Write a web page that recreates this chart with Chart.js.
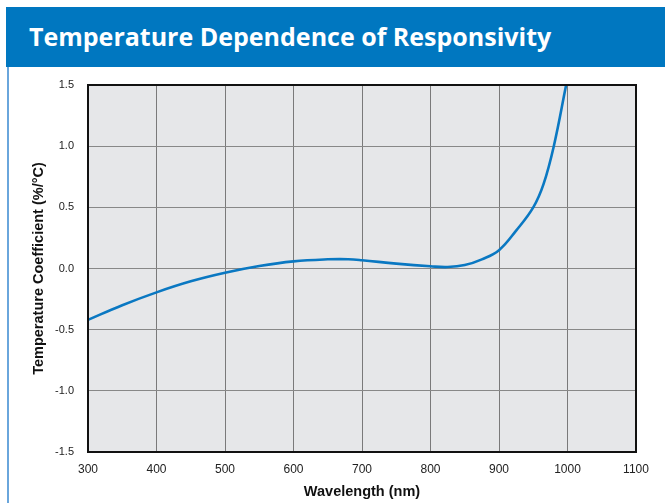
<!DOCTYPE html>
<html>
<head>
<meta charset="utf-8">
<script src="https://cdn.jsdelivr.net/npm/chart.js@4"></script>
<style>
  html,body{margin:0;padding:0;background:#fff;}
  #wrap{position:relative;width:665px;height:503px;overflow:hidden;}
  #hdr{position:absolute;left:6px;top:7px;width:659px;height:60px;background:#0077c0;}
  #ttl{position:absolute;left:29px;top:16px;color:#fff;font-family:"Open Sans",sans-serif;font-weight:700;font-size:25px;line-height:40px;white-space:nowrap;}
  #lline{position:absolute;left:7px;top:67px;width:2px;height:436px;background:#6aa6dc;}
  canvas{position:absolute;left:0;top:0;}
</style>
</head>
<body>
<div id="wrap">
  <div id="hdr"></div>
  <div id="ttl">Temperature Dependence of Responsivity</div>
  <div id="lline"></div>
  <canvas id="c" width="665" height="503"></canvas>
</div>
<script>
const title = "Temperature Dependence of Responsivity";
const xAxisTitle = "Wavelength (nm)";
const yAxisTitle = "Temperature Coefficient (%/°C)";
const wavelengths = [300, 350, 400, 450, 500, 550, 600, 650, 680, 700, 750, 800, 825, 850, 875, 900, 925, 950, 965, 980, 998];
const coefficients = [-0.42, -0.30, -0.195, -0.105, -0.035, 0.02, 0.058, 0.075, 0.076, 0.068, 0.04, 0.018, 0.012, 0.028, 0.075, 0.15, 0.31, 0.5, 0.69, 1.0, 1.5];
const xTicks = [300, 400, 500, 600, 700, 800, 900, 1000, 1100];
const yTicks = [-1.5, -1.0, -0.5, 0.0, 0.5, 1.0, 1.5];

const points = wavelengths.map((w, i) => ({x: w, y: coefficients[i]}));

const bgPlugin = {
  id: 'bg',
  beforeDraw(chart) {
    const {ctx, chartArea: a} = chart;
    ctx.save();
    ctx.fillStyle = '#e6e7e9';
    ctx.fillRect(a.left, a.top, a.right - a.left, a.bottom - a.top);
    ctx.restore();
  },
  afterDraw(chart) {
    const {ctx, chartArea: a} = chart;
    ctx.save();
    ctx.strokeStyle = '#111';
    ctx.lineWidth = 2;
    ctx.strokeRect(a.left, a.top, a.right - a.left, a.bottom - a.top);
    ctx.restore();
  }
};

const axisFont = 'Liberation Sans, Arial, sans-serif';

new Chart(document.getElementById('c'), {
  type: 'line',
  data: {
    datasets: [{
      data: points,
      borderColor: '#0a78c2',
      borderWidth: 2.6,
      pointRadius: 0,
      tension: 0.4,
      fill: false
    }]
  },
  options: {
    responsive: false,
    animation: false,
    devicePixelRatio: 1,
    layout: {padding: {top: 85, right: 29, left: 0, bottom: 0}},
    plugins: {legend: {display: false}, tooltip: {enabled: false}},
    scales: {
      x: {
        type: 'linear',
        min: 300, max: 1100,
        afterBuildTicks: s => { s.ticks = xTicks.map(v => ({value: v})); },
        afterFit: s => { s.height = 51; },
        ticks: {color: '#222', font: {family: axisFont, size: 12}, padding: 10, maxRotation: 0, autoSkip: false, callback: v => String(v)},
        grid: {color: '#7a7a7a', lineWidth: 1, drawTicks: false},
        border: {display: false},
        title: {display: true, text: xAxisTitle, color: '#111', font: {family: axisFont, size: 14.5, weight: 'bold'}, padding: {top: 0, bottom: 2}}
      },
      y: {
        type: 'linear',
        min: -1.5, max: 1.5,
        afterBuildTicks: s => { s.ticks = yTicks.map(v => ({value: v})); },
        afterFit: s => { s.width = 88; },
        ticks: {color: '#222', font: {family: axisFont, size: 11}, padding: 14, callback: v => v.toFixed(1)},
        grid: {color: '#888', lineWidth: 1, drawTicks: false},
        border: {display: false},
        title: {display: true, text: yAxisTitle, color: '#111', font: {family: axisFont, size: 14.5, weight: 'bold'}, padding: {top: 30, bottom: 0}}
      }
    }
  },
  plugins: [bgPlugin]
});
</script>
</body>
</html>
